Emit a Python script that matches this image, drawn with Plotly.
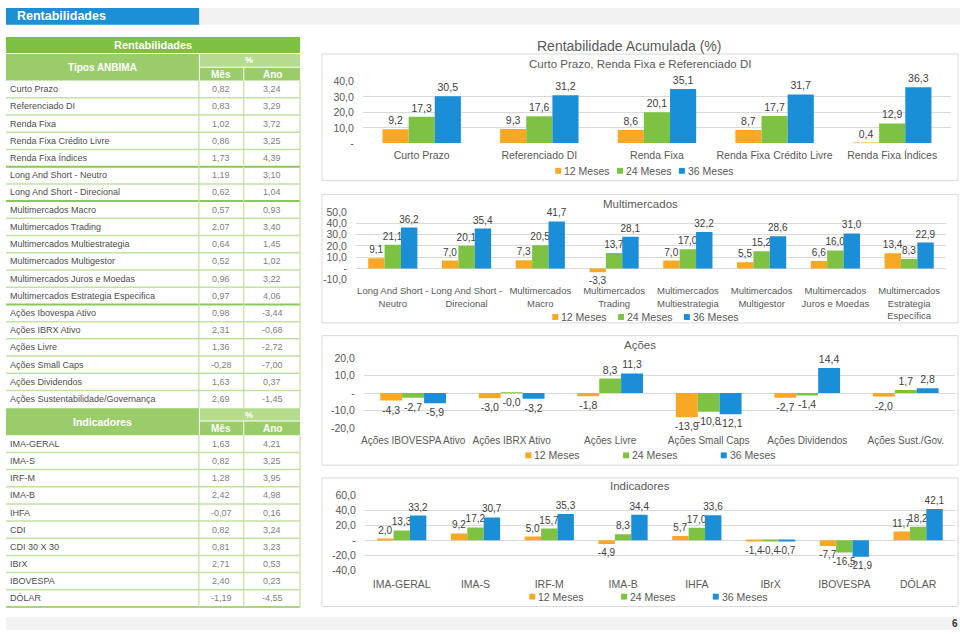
import plotly.graph_objects as go

W, H = 960, 636


def px(x):
    return x / W


def py(y):
    return 1 - y / H


# ---------------- data ----------------
SERIES = ["12 Meses", "24 Meses", "36 Meses"]
COLORS = ["#F9A825", "#7DC242", "#1A8FD8"]

TIPOS = ["Curto Prazo", "Referenciado DI", "Renda Fixa", "Renda Fixa Crédito Livre",
         "Renda Fixa Índices", "Long And Short - Neutro", "Long And Short - Direcional",
         "Multimercados Macro", "Multimercados Trading", "Multimercados Multiestrategia",
         "Multimercados Multigestor", "Multimercados Juros e Moedas",
         "Multimercados Estrategia Especifica", "Ações Ibovespa Ativo", "Ações IBRX Ativo",
         "Ações Livre", "Ações Small Caps", "Ações Dividendos",
         "Ações Sustentabilidade/Governança"]
TIPOS_MES = ["0,82", "0,83", "1,02", "0,86", "1,73", "1,19", "0,62", "0,57", "2,07", "0,64",
             "0,52", "0,96", "0,97", "0,98", "2,31", "1,36", "-0,28", "1,63", "2,69"]
TIPOS_ANO = ["3,24", "3,29", "3,72", "3,25", "4,39", "3,10", "1,04", "0,93", "3,40", "1,45",
             "1,02", "3,22", "4,06", "-3,44", "-0,68", "-2,72", "-7,00", "0,37", "-1,45"]

IND = ["IMA-GERAL", "IMA-S", "IRF-M", "IMA-B", "IHFA", "CDI", "CDI 30 X 30", "IBrX",
       "IBOVESPA", "DÓLAR"]
IND_MES = ["1,63", "0,82", "1,28", "2,42", "-0,07", "0,82", "0,81", "2,71", "2,40", "-1,19"]
IND_ANO = ["4,21", "3,25", "3,95", "4,98", "0,16", "3,24", "3,23", "0,53", "0,23", "-4,55"]

C1_CATS = ["Curto Prazo", "Referenciado DI", "Renda Fixa", "Renda Fixa Crédito Livre",
           "Renda Fixa Índices"]
C1_12 = [9.2, 9.3, 8.6, 8.7, 0.4]
C1_24 = [17.3, 17.6, 20.1, 17.7, 12.9]
C1_36 = [30.5, 31.2, 35.1, 31.7, 36.3]
C1_TICKS = [0, 10, 20, 30, 40]
C1_TICKTEXT = ["-", "10,0", "20,0", "30,0", "40,0"]

C2_CATS = ["Long And Short -<br>Neutro", "Long And Short -<br>Direcional",
           "Multimercados<br>Macro", "Multimercados<br>Trading",
           "Multimercados<br>Multiestrategia", "Multimercados<br>Multigestor",
           "Multimercados<br>Juros e Moedas", "Multimercados<br>Estrategia<br>Específica"]
C2_12 = [9.1, 7.0, 7.3, -3.3, 7.0, 5.5, 6.6, 13.4]
C2_24 = [21.1, 20.1, 20.5, 13.7, 17.0, 15.2, 16.0, 8.3]
C2_36 = [36.2, 35.4, 41.7, 28.1, 32.2, 28.6, 31.0, 22.9]
C2_TICKS = [-10, 0, 10, 20, 30, 40, 50]
C2_TICKTEXT = ["-10,0", "-", "10,0", "20,0", "30,0", "40,0", "50,0"]

C3_CATS = ["Ações IBOVESPA Ativo", "Ações IBRX Ativo", "Ações Livre", "Ações Small Caps",
           "Ações Dividendos", "Ações Sust./Gov."]
C3_12 = [-4.3, -3.0, -1.8, -13.9, -2.7, -2.0]
C3_24 = [-2.7, -0.04, 8.3, -10.8, -1.4, 1.7]
C3_36 = [-5.9, -3.2, 11.3, -12.1, 14.4, 2.8]
C3_TICKS = [-20, -10, 0, 10, 20]
C3_TICKTEXT = ["-20,0", "-10,0", "-", "10,0", "20,0"]

C4_CATS = ["IMA-GERAL", "IMA-S", "IRF-M", "IMA-B", "IHFA", "IBrX", "IBOVESPA", "DÓLAR"]
C4_12 = [2.0, 9.2, 5.0, -4.9, 5.7, -1.4, -7.7, 11.7]
C4_24 = [13.3, 17.2, 15.7, 8.3, 17.0, -0.4, -16.5, 18.2]
C4_36 = [33.2, 30.7, 35.3, 34.4, 33.6, -0.7, -21.9, 42.1]
C4_TICKS = [-40, -20, 0, 20, 40, 60]
C4_TICKTEXT = ["-40,0", "-20,0", "-", "20,0", "40,0", "60,0"]

MAIN_TITLE = "Rentabilidade Acumulada (%)"
SUBTITLES = ["Curto Prazo, Renda Fixa e Referenciado DI", "Multimercados", "Ações",
             "Indicadores"]

# ---------------- styles ----------------
CHART_FONT = "Liberation Sans Narrow, Arial Narrow, Liberation Sans, Arial, sans-serif"
TABLE_FONT = "Liberation Sans, Arial, sans-serif"
GREY = "#595959"
HDR_DARK = "#7CC142"
HDR_MID = "#9ACD6A"
HDR_LIGHT = "#B5DB8E"
ROW_LINE = "#C3E1A2"
GROUP_LINE = "#8CC75A"

shapes = []
annotations = []


def rect(x0, y0, x1, y1, fill, line=None, lw=0):
    shapes.append(dict(type="rect", xref="paper", yref="paper", x0=px(x0), x1=px(x1),
                       y0=py(y1), y1=py(y0), fillcolor=fill,
                       line=dict(width=lw, color=line or fill), layer="below"))


def hline(x0, x1, y, color, w):
    shapes.append(dict(type="line", xref="paper", yref="paper", x0=px(x0), x1=px(x1),
                       y0=py(y), y1=py(y), line=dict(color=color, width=w), layer="below"))


def vline(x, y0, y1, color, w):
    shapes.append(dict(type="line", xref="paper", yref="paper", x0=px(x), x1=px(x),
                       y0=py(y0), y1=py(y1), line=dict(color=color, width=w), layer="below"))


def text(x, y, s, size, color, xanchor="center", family=TABLE_FONT):
    annotations.append(dict(xref="paper", yref="paper", x=px(x), y=py(y), text=s,
                            showarrow=False, xanchor=xanchor, yanchor="middle",
                            font=dict(size=size, color=color, family=family)))


# ---------------- page header / footer ----------------
rect(3, 2, 197, 19, "#1D8FD6")
rect(197, 2, 960, 19, "#F2F2F2")
text(12, 10.5, "<b>Rentabilidades</b>", 12.5, "white", xanchor="left")
rect(3, 623, 960, 636, "#F2F2F2")
text(955, 629, "<b>6</b>", 10, "#333333")

# ---------------- table ----------------
TX0, TX1, TX2, TX3 = 3, 196.5, 241.5, 298
MES_X, ANO_X = 219, 270

rect(TX0, 31.5, TX3, 48, HDR_DARK)
text((TX0 + TX3) / 2, 40, "<b>Rentabilidades</b>", 11, "white")
rect(TX0, 49, TX1, 76, HDR_MID)
rect(TX1 + 1, 49, TX3, 62, HDR_LIGHT)
rect(TX1 + 1, 63, TX2 - 0.5, 76, HDR_MID)
rect(TX2 + 0.5, 63, TX3, 76, HDR_MID)
text((TX0 + TX1) / 2, 62.5, "<b>Tipos ANBIMA</b>", 10, "white")
text((TX1 + TX3) / 2, 55.5, "<b>%</b>", 9, "white")
text(MES_X, 69.5, "<b>Mês</b>", 10, "white")
text(ANO_X, 69.5, "<b>Ano</b>", 10, "white")

RH1 = 17.55
top = 76
GROUP_ENDS = {4, 6, 12}
for i, name in enumerate(TIPOS):
    cy = top + RH1 * (i + 0.5)
    text(5, cy, name, 9, "#4D4D4D", xanchor="left")
    text(MES_X, cy, TIPOS_MES[i], 9, "#7F7F7F")
    text(ANO_X, cy, TIPOS_ANO[i], 9, "#7F7F7F")
    yb = top + RH1 * (i + 1)
    if i in GROUP_ENDS:
        hline(TX0, TX3, yb, GROUP_LINE, 2)
    elif i < len(TIPOS) - 1:
        hline(TX0, TX3, yb, ROW_LINE, 1.5)
tbot = top + RH1 * len(TIPOS)
vline(TX1, top, tbot, ROW_LINE, 1.2)
vline(TX2, top, tbot, ROW_LINE, 1.2)
vline(TX3, top, tbot, ROW_LINE, 1.2)

ih0 = tbot + 0.5
rect(TX0, ih0, TX1, 437.5, HDR_MID)
rect(TX1 + 1, ih0, TX3, 422.5, HDR_LIGHT)
rect(TX1 + 1, 423.5, TX2 - 0.5, 437.5, HDR_MID)
rect(TX2 + 0.5, 423.5, TX3, 437.5, HDR_MID)
text((TX0 + TX1) / 2, 423.5, "<b>Indicadores</b>", 10.5, "white")
text((TX1 + TX3) / 2, 416.5, "<b>%</b>", 9, "white")
text(MES_X, 430.5, "<b>Mês</b>", 10, "white")
text(ANO_X, 430.5, "<b>Ano</b>", 10, "white")

RH2 = 17.5
top2 = 437.5
for i, name in enumerate(IND):
    cy = top2 + RH2 * (i + 0.5)
    text(5, cy, name, 9, "#4D4D4D", xanchor="left")
    text(MES_X, cy, IND_MES[i], 9, "#7F7F7F")
    text(ANO_X, cy, IND_ANO[i], 9, "#7F7F7F")
    yb = top2 + RH2 * (i + 1)
    hline(TX0, TX3, yb, ROW_LINE if i < len(IND) - 1 else GROUP_LINE, 1.5)
bot2 = top2 + RH2 * len(IND)
vline(TX1, top2, bot2, ROW_LINE, 1.2)
vline(TX2, top2, bot2, ROW_LINE, 1.2)
vline(TX3, top2, bot2, ROW_LINE, 1.2)

# ---------------- charts ----------------
charts = [
    dict(cats=C1_CATS, vals=[C1_12, C1_24, C1_36], x=(361, 951), y=(77, 140), rng=[0, 40],
         tv=C1_TICKS, tt=C1_TICKTEXT, box=(49, 178), sub_y=59, leg_y=168, leg_cx=641,
         leg_dx=62, xfs=10.5, dfs=10.5, xso=4),
    dict(cats=C2_CATS, vals=[C2_12, C2_24, C2_36], x=(354, 946), y=(210, 279), rng=[-10, 50],
         tv=C2_TICKS, tt=C2_TICKTEXT, box=(192, 323), sub_y=202, leg_y=317, leg_cx=642,
         leg_dx=66, xfs=9.5, dfs=10, xso=4),
    dict(cats=C3_CATS, vals=[C3_12, C3_24, C3_36], x=(362, 955), y=(359, 430), rng=[-20, 20],
         tv=C3_TICKS, tt=C3_TICKTEXT, box=(336, 468), sub_y=346, leg_y=458, leg_cx=647,
         leg_dx=98, xfs=10, dfs=10.5, xso=5),
    dict(cats=C4_CATS, vals=[C4_12, C4_24, C4_36], x=(363, 955), y=(499, 575), rng=[-40, 60],
         tv=C4_TICKS, tt=C4_TICKTEXT, box=(481, 612), sub_y=489, leg_y=602, leg_cx=645,
         leg_dx=92, xfs=10.5, dfs=10, xso=6),
]


def fmt(v):
    return f"{v:.1f}".replace(".", ",")


fig = go.Figure()
layout_axes = {}
text(628, 41, MAIN_TITLE, 14, GREY, family=CHART_FONT)

for i, c in enumerate(charts):
    n = i + 1
    xa = "x" if n == 1 else f"x{n}"
    ya = "y" if n == 1 else f"y{n}"
    rect(320, c["box"][0], 958, c["box"][1], "white", line="#D9D9D9", lw=1)
    text(639, c["sub_y"], SUBTITLES[i], 11.5, GREY, family=CHART_FONT)
    for j, vals in enumerate(c["vals"]):
        fig.add_trace(go.Bar(
            x=c["cats"], y=vals, name=SERIES[j], marker=dict(color=COLORS[j], line=dict(width=0)),
            text=[fmt(v) for v in vals], textposition="outside", textangle=0,
            constraintext="none", cliponaxis=False,
            textfont=dict(size=c["dfs"], color="#404040", family=CHART_FONT),
            xaxis=xa, yaxis=ya, showlegend=False, hoverinfo="x+y"))
    xkey = "xaxis" if n == 1 else f"xaxis{n}"
    ykey = "yaxis" if n == 1 else f"yaxis{n}"
    layout_axes[xkey] = dict(domain=[px(c["x"][0]), px(c["x"][1])], anchor=ya,
                             type="category", showgrid=False, showline=False, zeroline=False,
                             ticks="", tickangle=0, ticklabelstandoff=c["xso"],
                             tickfont=dict(size=c["xfs"], color=GREY, family=CHART_FONT))
    layout_axes[ykey] = dict(domain=[py(c["y"][1]), py(c["y"][0])], anchor=xa,
                             range=c["rng"], tickvals=c["tv"], ticktext=c["tt"],
                             showgrid=True, gridcolor="#D9D9D9", gridwidth=1,
                             zeroline=False, showline=False, ticks="", ticklabelstandoff=8,
                             tickfont=dict(size=10.5, color=GREY, family=CHART_FONT))
    # legend
    itemw = 50
    dx = c["leg_dx"]
    x0 = c["leg_cx"] - (2 * dx + itemw) / 2
    ly = c["leg_y"]
    for j, s in enumerate(SERIES):
        sx = x0 + j * dx
        rect(sx, ly - 3, sx + 6, ly + 3, COLORS[j])
        text(sx + 7, ly, s, 10.5, GREY, xanchor="left", family=CHART_FONT)

fig.update_layout(
    autosize=True, margin=dict(l=0, r=0, t=0, b=0),
    paper_bgcolor="white", plot_bgcolor="rgba(0,0,0,0)",
    barmode="group", bargap=1 / 3, bargroupgap=0,
    shapes=shapes, annotations=annotations, showlegend=False,
    font=dict(family=CHART_FONT, color=GREY),
    **layout_axes,
)

fig.write_html(
    "out.html",
    config={"displayModeBar": False},
    default_width=f"{W}px;position:absolute;left:0;top:0",
    default_height=f"{H}px",
)
